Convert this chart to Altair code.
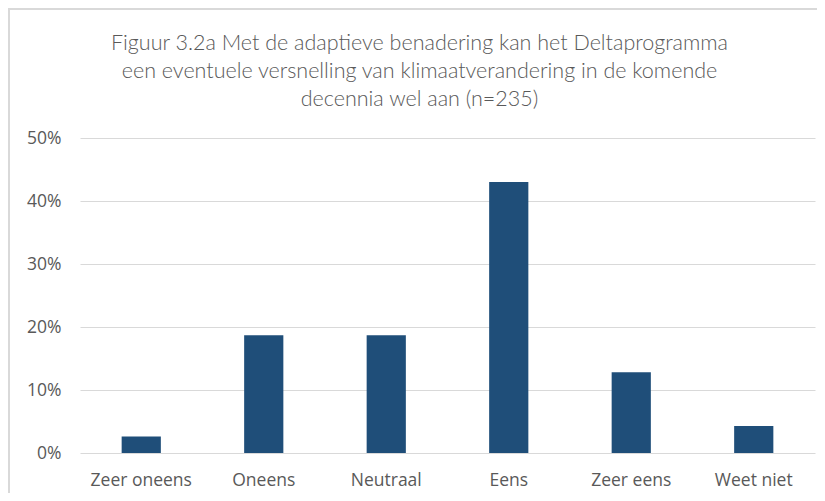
import altair as alt
import pandas as pd

categories = ["Zeer oneens", "Oneens", "Neutraal", "Eens", "Zeer eens", "Weet niet"]
shares = [0.026, 0.187, 0.187, 0.430, 0.128, 0.043]
y_ticks = [0, 0.1, 0.2, 0.3, 0.4, 0.5]
title_lines = [
    "Figuur 3.2a Met de adaptieve benadering kan het Deltaprogramma",
    "een eventuele versnelling van klimaatverandering in de komende",
    "decennia wel aan (n=235)",
]

df = pd.DataFrame({"cat": categories, "share": shares})
one = pd.DataFrame({"k": [0]})

FONT = "Open Sans"
GREY = "#595959"

bars = alt.Chart(df).mark_bar(color="#1F4E79").encode(
    x=alt.X(
        "cat:N",
        sort=categories,
        scale=alt.Scale(paddingInner=0.68, paddingOuter=0.34),
        axis=alt.Axis(
            title=None, labelAngle=0, domain=False, ticks=False,
            labelPadding=18, labelFontSize=17.5, labelColor=GREY, labelFont=FONT,
        ),
    ),
    y=alt.Y(
        "share:Q",
        scale=alt.Scale(domain=[0, 0.5]),
        axis=alt.Axis(
            title=None, values=y_ticks, format=".0%", domain=False, ticks=False,
            labelPadding=19, labelFontSize=17.5, labelColor=GREY, labelFont=FONT,
            gridColor="#D9D9D9", gridWidth=1,
        ),
    ),
)

border_left = alt.Chart(one).mark_rule(color="#D9D9D9", strokeWidth=2).encode(
    x=alt.value(-71), y=alt.value(-130), y2=alt.value(400)
)
border_top = alt.Chart(one).mark_rule(color="#D9D9D9", strokeWidth=2).encode(
    x=alt.value(-72), x2=alt.value(800), y=alt.value(-129), y2=alt.value(-129)
)

chart = alt.layer(border_left, border_top, bars).properties(
    width=735,
    height=315,
    autosize=alt.AutoSizeParams(type="none"),
    padding={"left": 72, "top": 130, "right": 2, "bottom": 40},
    title=alt.TitleParams(
        text=title_lines, anchor="middle", frame="group",
        font="Lato", fontSize=21.5, fontWeight=300, color=GREY,
        lineHeight=28, offset=-103, dx=-28,
    ),
).configure_view(stroke=None)

chart.save("out.html", embed_options={"renderer": "svg", "actions": False})
